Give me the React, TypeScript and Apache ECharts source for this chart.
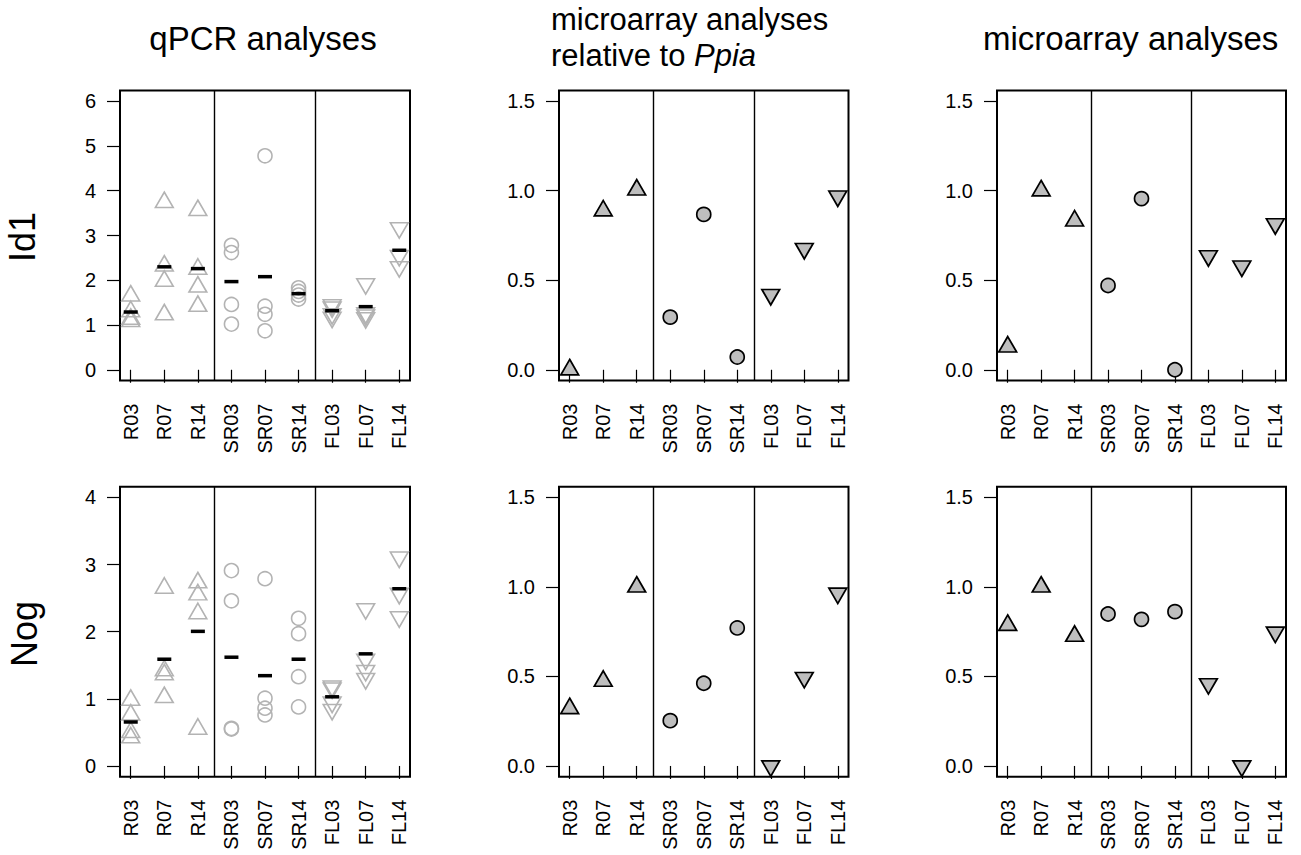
import React, { useEffect, useRef } from "react";
import * as echarts from "echarts";

// ---------- data ----------
const categories = ["R03", "R07", "R14", "SR03", "SR07", "SR14", "FL03", "FL07", "FL14"];
const groups = ["R", "R", "R", "SR", "SR", "SR", "FL", "FL", "FL"];

// qPCR replicate values (per category)
const qpcrId1 = [
  [1.65, 1.3, 1.13, 1.08],
  [3.74, 2.32, 1.98, 1.23],
  [3.56, 2.25, 1.85, 1.42],
  [2.78, 2.62, 1.46, 1.02],
  [4.78, 1.42, 1.24, 0.87],
  [1.83, 1.75, 1.67, 1.58],
  [1.45, 1.4, 1.25, 1.17],
  [1.92, 1.27, 1.22, 1.16],
  [3.17, 2.55, 2.3],
];
const qpcrId1Mean = [1.29, 2.3, 2.26, 1.97, 2.08, 1.7, 1.32, 1.41, 2.67];

const qpcrNog = [
  [0.98, 0.76, 0.5, 0.42],
  [2.65, 1.42, 1.36, 1.02],
  [2.73, 2.55, 2.27, 0.55],
  [2.91, 2.46, 0.56, 0.55],
  [2.79, 1.01, 0.86, 0.76],
  [2.2, 1.97, 1.33, 0.88],
  [1.19, 1.16, 0.95, 0.84],
  [2.34, 1.59, 1.42, 1.3],
  [3.11, 2.57, 2.22],
];
const qpcrNogMean = [0.655, 1.59, 2.005, 1.62, 1.345, 1.59, 1.03, 1.67, 2.64];

const ppiaId1 = [0.0, 0.888, 1.005, 0.294, 0.868, 0.071, 0.42, 0.677, 0.97];
const ppiaNog = [0.321, 0.474, 1.0, 0.253, 0.462, 0.771, 0.0, 0.494, 0.965];
const arrayId1 = [0.128, 1.0, 0.832, 0.471, 0.956, 0.0, 0.636, 0.579, 0.815];
const arrayNog = [0.786, 1.0, 0.725, 0.849, 0.819, 0.862, 0.459, 0.0, 0.747];

const qpcrId1Ticks = [0, 1, 2, 3, 4, 5, 6];
const qpcrNogTicks = [0, 1, 2, 3, 4];
const arrayTicks = [0, 0.5, 1, 1.5];
const xTicks = [1, 2, 3, 4, 5, 6, 7, 8, 9];
const separators = [3.5, 6.5];

// ---------- styling ----------
const FONT = "'Liberation Sans', Arial, Helvetica, sans-serif";
const UP = "path://M5,0 L10,8.66 L0,8.66 Z";
const DOWN = "path://M0,0 L10,0 L5,8.66 Z";
const TRI_SIZE = [17.8, 15.4];
const TRI_OFF = 2.6;
const CIRCLE_SIZE = 14;
const TICK_FONT = 20;

const panels = [
  { left: 120, top: 90.5, width: 290, ymin: -0.24, ymax: 6.24, ticks: qpcrId1Ticks, dec: 0, qpcr: qpcrId1, mean: qpcrId1Mean },
  { left: 120, top: 486.7, width: 290, ymin: -0.16, ymax: 4.16, ticks: qpcrNogTicks, dec: 0, qpcr: qpcrNog, mean: qpcrNogMean },
  { left: 559, top: 90.5, width: 289.5, ymin: -0.06, ymax: 1.56, ticks: arrayTicks, dec: 1, vals: ppiaId1 },
  { left: 559, top: 486.7, width: 289.5, ymin: -0.06, ymax: 1.56, ticks: arrayTicks, dec: 1, vals: ppiaNog },
  { left: 997, top: 90.5, width: 289, ymin: -0.06, ymax: 1.56, ticks: arrayTicks, dec: 1, vals: arrayId1 },
  { left: 997, top: 486.7, width: 289, ymin: -0.06, ymax: 1.56, ticks: arrayTicks, dec: 1, vals: arrayNog },
];

function shapeFor(g: string) {
  if (g === "R") return { symbol: UP, symbolSize: TRI_SIZE, symbolOffset: [0, -TRI_OFF] };
  if (g === "FL") return { symbol: DOWN, symbolSize: TRI_SIZE, symbolOffset: [0, TRI_OFF] };
  return { symbol: "circle", symbolSize: CIRCLE_SIZE, symbolOffset: [0, 0] };
}

function buildOption() {
  const grid: any[] = [];
  const xAxis: any[] = [];
  const yAxis: any[] = [];
  const series: any[] = [];

  panels.forEach((p: any, i) => {
    grid.push({
      left: p.left,
      top: p.top,
      width: p.width,
      height: 290,
      show: true,
      borderColor: "#000",
      borderWidth: 2,
      backgroundColor: "transparent",
      containLabel: false,
    });
    xAxis.push({
      type: "value",
      gridIndex: i,
      min: 0.68,
      max: 9.32,
      axisLine: { show: false },
      splitLine: { show: false },
      axisTick: { show: true, customValues: xTicks, length: 13, lineStyle: { color: "#000", width: 1.2 } },
      axisLabel: {
        customValues: xTicks,
        rotate: 90,
        margin: 23,
        fontSize: TICK_FONT,
        color: "#000",
        fontFamily: FONT,
        formatter: (v: number) => categories[Math.round(v) - 1] || "",
      },
    });
    yAxis.push({
      type: "value",
      gridIndex: i,
      min: p.ymin,
      max: p.ymax,
      axisLine: { show: false },
      splitLine: { show: false },
      axisTick: { show: true, customValues: p.ticks, length: 13, lineStyle: { color: "#000", width: 1.2 } },
      axisLabel: {
        customValues: p.ticks,
        margin: 24,
        fontSize: TICK_FONT,
        color: "#000",
        fontFamily: FONT,
        formatter: (v: number) => v.toFixed(p.dec),
      },
    });

    // separator lines
    series.push({
      type: "line",
      xAxisIndex: i,
      yAxisIndex: i,
      data: [],
      silent: true,
      markLine: {
        silent: true,
        symbol: "none",
        label: { show: false },
        lineStyle: { color: "#000", width: 1.4, type: "solid" },
        data: separators.map((s) => ({ xAxis: s })),
      },
    });

    ["R", "SR", "FL"].forEach((g) => {
      const sh = shapeFor(g);
      const data: number[][] = [];
      categories.forEach((_, ci) => {
        if (groups[ci] !== g) return;
        if (p.qpcr) {
          p.qpcr[ci].forEach((v: number) => data.push([ci + 1, v]));
        } else {
          data.push([ci + 1, p.vals[ci]]);
        }
      });
      series.push({
        type: "scatter",
        xAxisIndex: i,
        yAxisIndex: i,
        data,
        ...sh,
        clip: false,
        silent: true,
        itemStyle: p.qpcr
          ? { color: "rgba(0,0,0,0)", borderColor: "#b3b3b3", borderWidth: 1.6, opacity: 1 }
          : { color: "#bebebe", borderColor: "#000", borderWidth: 1.7, opacity: 1 },
        z: 3,
      });
    });

    if (p.mean) {
      series.push({
        type: "scatter",
        xAxisIndex: i,
        yAxisIndex: i,
        data: p.mean.map((m: number, ci: number) => [ci + 1, m]),
        symbol: "rect",
        symbolSize: [14, 3.5],
        silent: true,
        itemStyle: { color: "#000", opacity: 1 },
        z: 4,
      });
    }
  });

  const TS = 33;
  const TS2 = 31;
  const titleStyle = { fontSize: TS, fontFamily: FONT, fill: "#000" };
  const graphic: any[] = [
    { type: "text", x: 263, y: 38, style: { ...titleStyle, text: "qPCR analyses", align: "center", verticalAlign: "middle" } },
    { type: "text", x: 551, y: 19, style: { fontSize: TS2, fontFamily: FONT, fill: "#000", text: "microarray analyses", align: "left", verticalAlign: "middle" } },
    {
      type: "text",
      x: 551,
      y: 55,
      style: {
        fontSize: TS2,
        fontFamily: FONT,
        fill: "#000",
        text: "{n|relative to }{i|Ppia}",
        align: "left",
        verticalAlign: "middle",
        rich: {
          n: { fontSize: TS2, fontFamily: FONT, fill: "#000" },
          i: { fontSize: TS2, fontFamily: FONT, fill: "#000", fontStyle: "italic" },
        },
      },
    },
    { type: "text", x: 983, y: 38, style: { ...titleStyle, text: "microarray analyses", align: "left", verticalAlign: "middle" } },
    { type: "text", x: 22, y: 237, rotation: Math.PI / 2, style: { fontSize: 36, fontFamily: FONT, fill: "#000", text: "Id1", align: "center", verticalAlign: "middle" } },
    { type: "text", x: 24, y: 634, rotation: Math.PI / 2, style: { fontSize: 36, fontFamily: FONT, fill: "#000", text: "Nog", align: "center", verticalAlign: "middle" } },
  ];

  return {
    animation: false,
    backgroundColor: "#fff",
    grid,
    xAxis,
    yAxis,
    series,
    graphic,
  };
}

export default function App() {
  const ref = useRef<HTMLDivElement>(null);
  useEffect(() => {
    document.body.style.margin = "0";
    if (!ref.current) return;
    const chart = echarts.init(ref.current, undefined, { renderer: "svg" });
    chart.setOption(buildOption() as any);
    return () => chart.dispose();
  }, []);
  return <div ref={ref} style={{ position: "absolute", left: 0, top: 0, width: 1301, height: 855 }} />;
}
